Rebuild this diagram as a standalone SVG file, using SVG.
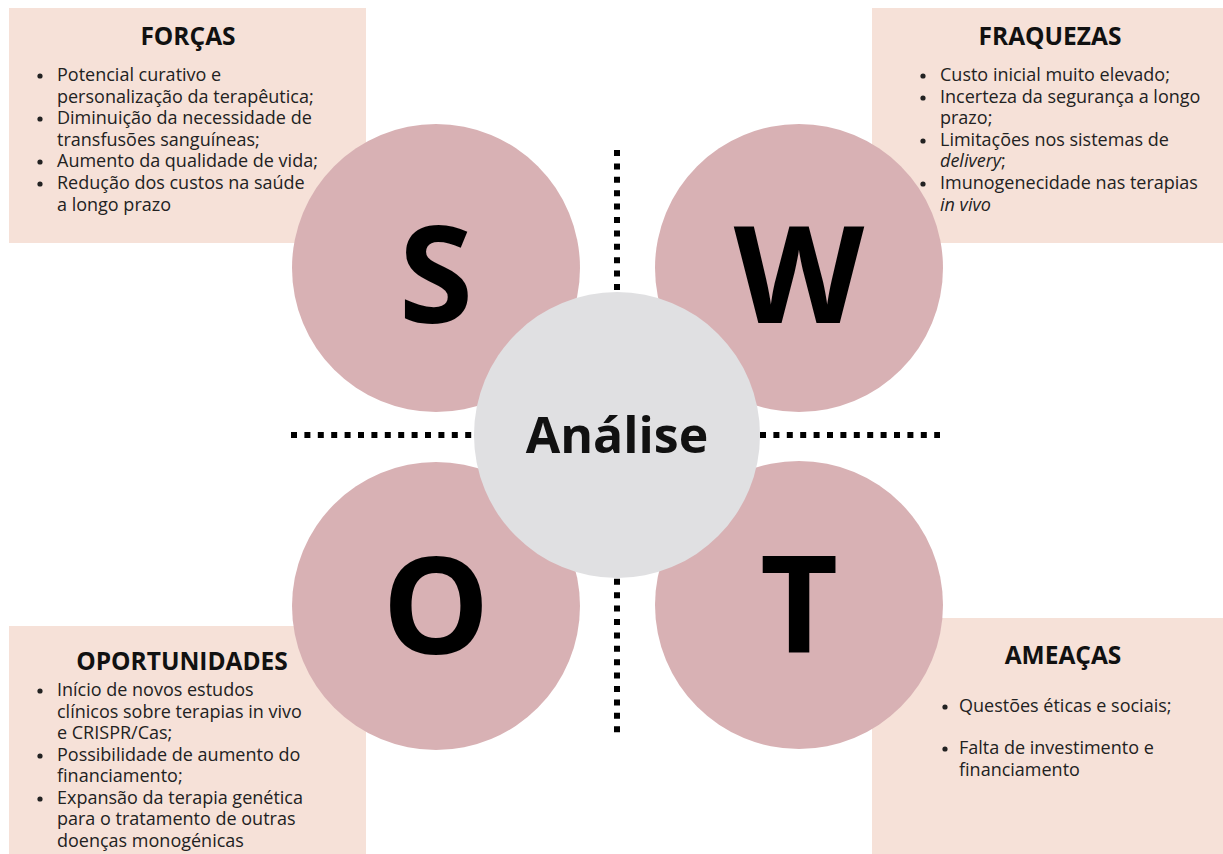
<svg xmlns="http://www.w3.org/2000/svg" width="1223" height="854" viewBox="0 0 1223 854">
<style>
.box{fill:#f6e1d8}
.petal{fill:#d8b1b4}
.core{fill:#e0e0e2}
.title{font-family:"Open Sans","Liberation Sans",sans-serif;font-weight:700;font-size:24.5px;fill:#111;text-anchor:middle}
.body{font-family:"Open Sans","Liberation Sans",sans-serif;font-size:18px;fill:#222}
.big{font-family:"Open Sans","Liberation Sans",sans-serif;font-weight:700;font-size:135px;fill:#000;text-anchor:middle}
.mid{font-family:"Open Sans","Liberation Sans",sans-serif;font-weight:700;font-size:50px;fill:#111;text-anchor:middle}
.dot{fill:#222}
.dash{stroke:#000;stroke-width:6;stroke-dasharray:6 7.4;fill:none}
</style>
<rect width="1223" height="854" fill="#fff"/>
<g id="box-forcas">
<rect class="box" x="9" y="8" width="357" height="235"/>
<text class="title" x="188" y="45">FORÇAS</text>
<circle class="dot" cx="40" cy="76" r="2.6"/>
<circle class="dot" cx="40" cy="119" r="2.6"/>
<circle class="dot" cx="40" cy="162" r="2.6"/>
<circle class="dot" cx="40" cy="184" r="2.6"/>
<text class="body"><tspan x="57" y="81">Potencial curativo e</tspan><tspan x="57" y="103">personalização da terapêutica;</tspan><tspan x="57" y="124">Diminuição da necessidade de</tspan><tspan x="57" y="146">transfusões sanguíneas;</tspan><tspan x="57" y="167">Aumento da qualidade de vida;</tspan><tspan x="57" y="189">Redução dos custos na saúde</tspan><tspan x="57" y="211">a longo prazo</tspan></text>
</g>
<g id="box-fraquezas">
<rect class="box" x="872" y="8" width="351" height="235"/>
<text class="title" x="1050" y="45">FRAQUEZAS</text>
<circle class="dot" cx="923" cy="76" r="2.6"/>
<circle class="dot" cx="923" cy="98" r="2.6"/>
<circle class="dot" cx="923" cy="141" r="2.6"/>
<circle class="dot" cx="923" cy="184" r="2.6"/>
<text class="body"><tspan x="940" y="81">Custo inicial muito elevado;</tspan><tspan x="940" y="103">Incerteza da segurança a longo</tspan><tspan x="940" y="124">prazo;</tspan><tspan x="940" y="146">Limitações nos sistemas de</tspan><tspan x="940" y="167" font-style="italic">delivery</tspan><tspan>;</tspan><tspan x="940" y="189">Imunogenecidade nas terapias</tspan><tspan x="940" y="211" font-style="italic">in vivo</tspan></text>
</g>
<g id="box-oportunidades">
<rect class="box" x="9" y="626" width="357" height="228"/>
<text class="title" x="182" y="670">OPORTUNIDADES</text>
<circle class="dot" cx="40" cy="691" r="2.6"/>
<circle class="dot" cx="40" cy="756" r="2.6"/>
<circle class="dot" cx="40" cy="799" r="2.6"/>
<text class="body"><tspan x="57" y="696">Início de novos estudos</tspan><tspan x="57" y="718">clínicos sobre terapias in vivo</tspan><tspan x="57" y="739">e CRISPR/Cas;</tspan><tspan x="57" y="761">Possibilidade de aumento do</tspan><tspan x="57" y="782">financiamento;</tspan><tspan x="57" y="804">Expansão da terapia genética</tspan><tspan x="57" y="825">para o tratamento de outras</tspan><tspan x="57" y="847">doenças monogénicas</tspan></text>
</g>
<g id="box-ameacas">
<rect class="box" x="872" y="618" width="351" height="236"/>
<text class="title" x="1063" y="664">AMEAÇAS</text>
<circle class="dot" cx="945" cy="707" r="2.6"/>
<circle class="dot" cx="945" cy="749" r="2.6"/>
<text class="body"><tspan x="959" y="712">Questões éticas e sociais;</tspan><tspan x="959" y="754">Falta de investimento e</tspan><tspan x="959" y="776">financiamento</tspan></text>
</g>
<g id="connectors">
<line class="dash" x1="291" y1="435" x2="940" y2="435"/>
<line class="dash" x1="617" y1="150" x2="617" y2="738"/>
</g>
<g id="node-s">
<circle class="petal" cx="436" cy="268" r="144"/>
<text class="big" x="436" y="323">S</text>
</g>
<g id="node-w">
<circle class="petal" cx="799" cy="268" r="144"/>
<text class="big" x="799" y="323">W</text>
</g>
<g id="node-o">
<circle class="petal" cx="436" cy="606" r="144"/>
<text class="big" x="436" y="654">O</text>
</g>
<g id="node-t">
<circle class="petal" cx="799" cy="605" r="144"/>
<text class="big" x="799" y="652">T</text>
</g>
<g id="node-analise">
<circle class="core" cx="617" cy="435" r="143"/>
<text class="mid" x="617" y="453">Análise</text>
</g>
</svg>
